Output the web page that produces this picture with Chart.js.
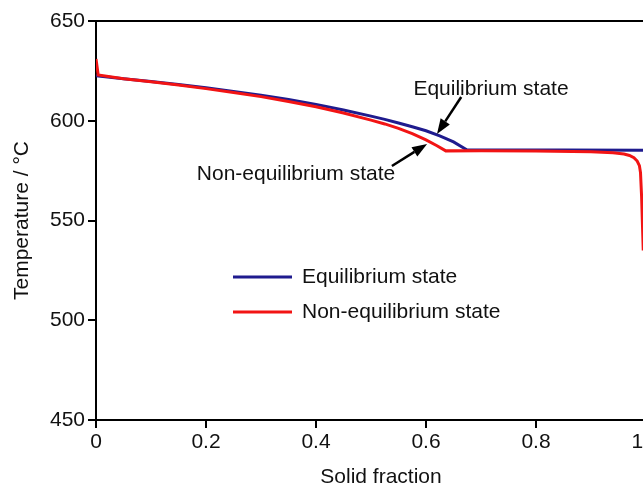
<!DOCTYPE html>
<html>
<head>
<meta charset="utf-8">
<script src="https://cdn.jsdelivr.net/npm/chart.js@4/dist/chart.umd.min.js"></script>
<style>
  html, body { margin: 0; padding: 0; background: #fff; overflow: hidden; }
  #wrap { width: 643px; height: 489px; overflow: hidden; }
</style>
</head>
<body>
<div id="wrap"><canvas id="chart" width="700" height="489"></canvas></div>
<script>
// solidification curves: solid fraction vs temperature (°C)
const eqFraction = [0, 0.05, 0.1, 0.15, 0.2, 0.25, 0.3, 0.35, 0.4, 0.45, 0.5, 0.525, 0.55, 0.575, 0.6, 0.625, 0.65, 0.674, 0.7, 0.85, 1.0];
const eqTemp = [622.5, 621.1, 619.7, 618.2, 616.5, 614.7, 612.8, 610.6, 608.2, 605.4, 602.3, 600.7, 598.9, 597.0, 595.0, 592.4, 589.4, 585.5, 585.4, 585.3, 585.2];

const neqFraction = [0, 0.004, 0.05, 0.1, 0.15, 0.2, 0.25, 0.3, 0.35, 0.4, 0.45, 0.5, 0.525, 0.55, 0.575, 0.6, 0.62, 0.636,
  0.7, 0.8, 0.9, 0.94, 0.96, 0.97, 0.978, 0.984, 0.988, 0.99, 0.992, 0.995];
const neqTemp = [631, 623, 621.0, 619.5, 617.9, 616.1, 614.2, 612.1, 609.7, 607.0, 603.9, 600.3, 598.4, 596.2, 593.5, 590.4, 587.5, 584.9,
  585.0, 584.8, 584.4, 583.9, 583.3, 582.6, 581.5, 579.8, 577.5, 574, 562, 535];

const xTicks = [0, 0.2, 0.4, 0.6, 0.8, 1];
const yTicks = [450, 500, 550, 600, 650];

const seriesNames = ["Equilibrium state", "Non-equilibrium state"];
const seriesColors = ["#1f1b8e", "#f21414"];

// arrow annotations: [label, tail fraction, tail temp, tip fraction, tip temp]
const arrows = [
  ["Equilibrium state", 0.664, 611.9, 0.62, 593.4],
  ["Non-equilibrium state", 0.538, 577.3, 0.602, 588.4],
];

const FONT = "Liberation Sans, Arial, Helvetica, sans-serif";

function zip(xs, ys) {
  return xs.map((x, i) => ({ x: x, y: ys[i] }));
}

function drawArrow(ctx, x1, y1, x2, y2) {
  const ang = Math.atan2(y2 - y1, x2 - x1);
  const head = 15;
  const half = 5.5;
  const bx = x2 - head * Math.cos(ang);
  const by = y2 - head * Math.sin(ang);
  ctx.beginPath();
  ctx.moveTo(x1, y1);
  ctx.lineTo(bx, by);
  ctx.stroke();
  ctx.beginPath();
  ctx.moveTo(x2, y2);
  ctx.lineTo(bx + half * Math.sin(ang), by - half * Math.cos(ang));
  ctx.lineTo(bx - half * Math.sin(ang), by + half * Math.cos(ang));
  ctx.closePath();
  ctx.fill();
}

const extras = {
  id: "extras",
  afterDraw(chart) {
    const ctx = chart.ctx;
    const area = chart.chartArea;
    const xs = chart.scales.x;
    const ys = chart.scales.y;
    ctx.save();

    // top frame line
    ctx.strokeStyle = "#000";
    ctx.lineWidth = 2;
    ctx.beginPath();
    ctx.moveTo(area.left - 1, area.top);
    ctx.lineTo(area.right, area.top);
    ctx.stroke();

    // x axis title
    ctx.fillStyle = "#111";
    ctx.font = "21px " + FONT;
    ctx.textAlign = "center";
    ctx.textBaseline = "middle";
    ctx.fillText("Solid fraction", 381, 477);

    // annotations with arrows
    ctx.fillText(arrows[0][0], 491, 89);
    ctx.fillText(arrows[1][0], 296, 174);
    ctx.strokeStyle = "#000";
    ctx.fillStyle = "#000";
    ctx.lineWidth = 2.5;
    arrows.forEach((a) => {
      drawArrow(ctx,
        xs.getPixelForValue(a[1]), ys.getPixelForValue(a[2]),
        xs.getPixelForValue(a[3]), ys.getPixelForValue(a[4]));
    });

    // legend
    ctx.textAlign = "left";
    ctx.fillStyle = "#111";
    ctx.lineWidth = 3;
    seriesNames.forEach((name, i) => {
      const y = 277 + i * 35;
      ctx.strokeStyle = seriesColors[i];
      ctx.beginPath();
      ctx.moveTo(233, y);
      ctx.lineTo(292, y);
      ctx.stroke();
      ctx.fillText(name, 302, y);
    });
    ctx.restore();
  },
};

const axisFont = { family: FONT, size: 21 };

new Chart(document.getElementById("chart"), {
  type: "line",
  data: {
    datasets: [
      {
        label: seriesNames[0],
        data: zip(eqFraction, eqTemp),
        borderColor: seriesColors[0],
        borderWidth: 3,
        pointRadius: 0,
        tension: 0,
        order: 1,
      },
      {
        label: seriesNames[1],
        data: zip(neqFraction, neqTemp),
        borderColor: seriesColors[1],
        borderWidth: 3,
        pointRadius: 0,
        tension: 0,
        order: 0,
      },
    ],
  },
  options: {
    responsive: false,
    devicePixelRatio: 1,
    animation: false,
    layout: { padding: { top: 21, right: 54, left: 0, bottom: 0 } },
    plugins: {
      legend: { display: false },
      tooltip: { enabled: false },
    },
    scales: {
      x: {
        type: "linear",
        min: 0,
        max: 1,
        afterFit: (s) => { s.height = 69; },
        afterBuildTicks: (s) => { s.ticks = xTicks.map((v) => ({ value: v })); },
        border: { color: "#000", width: 2 },
        grid: { drawOnChartArea: false, color: "#000", lineWidth: 2, tickLength: 8 },
        ticks: { color: "#111", font: axisFont, padding: 2, maxRotation: 0 },
      },
      y: {
        min: 450,
        max: 650,
        afterFit: (s) => { s.width = 96; },
        afterBuildTicks: (s) => { s.ticks = yTicks.map((v) => ({ value: v })); },
        border: { color: "#000", width: 2 },
        grid: { drawOnChartArea: false, color: "#000", lineWidth: 2, tickLength: 8 },
        ticks: { color: "#111", font: axisFont, padding: 3 },
        title: {
          display: true,
          text: "Temperature / °C",
          color: "#111",
          font: axisFont,
          padding: { top: 10, bottom: 0 },
        },
      },
    },
  },
  plugins: [extras],
});
</script>
</body>
</html>
